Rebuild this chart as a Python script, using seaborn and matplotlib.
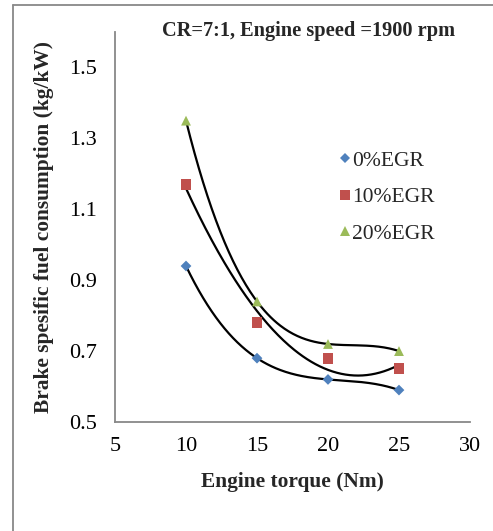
import numpy as np
import pandas as pd
import matplotlib
matplotlib.use('Agg')
import matplotlib.pyplot as plt
import seaborn as sns
from matplotlib.lines import Line2D

torque = [10, 15, 20, 25]
bsfc_0 = [0.94, 0.68, 0.62, 0.59]
bsfc_10 = [1.17, 0.78, 0.68, 0.65]
bsfc_20 = [1.35, 0.84, 0.72, 0.70]
series_names = ['0%EGR', '10%EGR', '20%EGR']
# trendline polynomial order used for each series
trend_order = [3, 2, 3]

colors = ['#4F81BD', '#C0504D', '#9BBB59']
markers = ['D', 's', '^']
msizes = [30, 60, 50]

sns.set_theme(style='white')
plt.rcParams['font.family'] = ['Liberation Serif', 'DejaVu Serif']

fig = plt.figure(figsize=(4.93, 5.31), dpi=100)
ax = fig.add_axes([0.2333, 0.2053, 0.72, 0.7344])

df = pd.DataFrame({
    'torque': torque * 3,
    'bsfc': bsfc_0 + bsfc_10 + bsfc_20,
    'series': [n for n in series_names for _ in torque],
})

# trendlines
for name, order in zip(series_names, trend_order):
    sub = df[df['series'] == name]
    coef = np.polyfit(sub['torque'], sub['bsfc'], order)
    xs = np.linspace(min(torque), max(torque), 200)
    sns.lineplot(x=xs, y=np.polyval(coef, xs), color='black', lw=1.6, ax=ax, zorder=2)

for name, c, m, s in zip(series_names, colors, markers, msizes):
    sub = df[df['series'] == name]
    sns.scatterplot(data=sub, x='torque', y='bsfc', color=c, marker=m, s=s,
                    edgecolor='none', ax=ax, zorder=3)

ax.set_xlim(5, 30)
ax.set_ylim(0.5, 1.6)
ax.set_xticks([5, 10, 15, 20, 25, 30])
ax.set_yticks([0.5, 0.7, 0.9, 1.1, 1.3, 1.5])
ax.set_yticklabels(['0.5', '0.7', '0.9', '1.1', '1.3', '1.5'])
ax.tick_params(labelsize=16, length=0, colors='black')
ax.tick_params(axis='y', pad=13)
ax.tick_params(axis='x', pad=11)
for sp in ['top', 'right']:
    ax.spines[sp].set_visible(False)
for sp in ['left', 'bottom']:
    ax.spines[sp].set_color('#888888')
    ax.spines[sp].set_linewidth(1.3)
ax.set_xlabel('Engine torque (Nm)', fontsize=15.4, fontweight='bold', labelpad=11)
ax.set_ylabel('Brake spesific fuel consumption (kg/kW)', fontsize=15.4,
              fontweight='bold', labelpad=11)

handles = [Line2D([], [], ls='none', marker=m, color=c, markersize=ms, markeredgewidth=0)
           for c, m, ms in zip(colors, markers, [5.5, 7.5, 7])]
ax.legend(handles, series_names, loc='upper left', bbox_to_anchor=(0.592, 0.718),
          frameon=False, fontsize=15.5, handletextpad=-0.15, handlelength=1.0,
          labelspacing=0.77, borderaxespad=0)

fig.text(309 / 493, 1 - 31 / 531, 'CR=7:1, Engine speed =1900 rpm', ha='center',
         va='center', fontsize=14.7, fontweight='bold')

# outer chart frame
fig.add_artist(Line2D([13 / 493, 13 / 493], [0, 1 - 5 / 531], color='#888888', lw=1.3))
fig.add_artist(Line2D([13 / 493, 1], [1 - 5 / 531, 1 - 5 / 531], color='#888888', lw=1.3))

fig.savefig('out.png', dpi=100)
